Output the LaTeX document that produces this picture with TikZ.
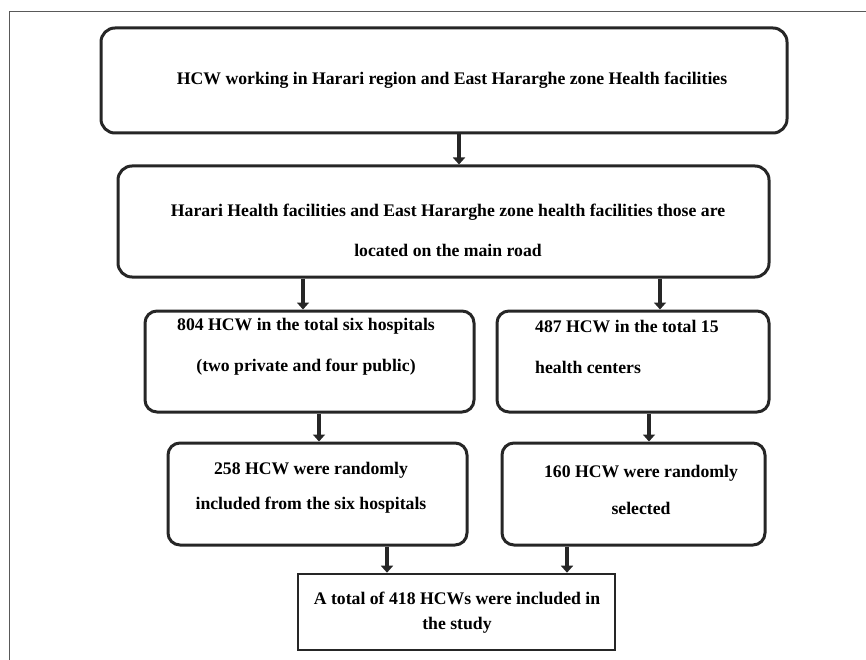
\documentclass[tikz,border=0pt]{standalone}
\usepackage{fontspec}
\setmainfont{Liberation Serif}
\usetikzlibrary{arrows.meta}
\tikzstyle{stage} = [rectangle, draw=black!85, line width=3pt, rounded corners=14pt, inner sep=0pt]
\tikzstyle{final} = [rectangle, draw=black!85, line width=2.6pt, inner sep=0pt]
\tikzstyle{txt} = [align=center, inner sep=0pt]
\tikzstyle{flow} = [-{Triangle[length=7pt,width=12pt]}, line width=4.5pt, draw=black!85]

\begin{document}
\begin{tikzpicture}[x=1pt,y=-1pt]
  \useasboundingbox (0,0) rectangle (866,660);
  \draw[black!65, line width=1.4pt] (9.5,660) -- (9.5,11.5) -- (866,11.5);

  \node[stage, minimum width=686pt, minimum height=105pt] (top) at (444,80.5) {};
  \node[stage, minimum width=651pt, minimum height=111pt] (mid) at (443.5,221.5) {};
  \node[stage, rounded corners=12pt, minimum width=329pt, minimum height=101pt] (hosp) at (309.5,361.5) {};
  \node[stage, rounded corners=12pt, minimum width=272pt, minimum height=101pt] (hc) at (633,361.5) {};
  \node[stage, rounded corners=12pt, minimum width=299pt, minimum height=102pt] (hsamp) at (317.5,494) {};
  \node[stage, rounded corners=12pt, minimum width=263pt, minimum height=102pt] (hcsamp) at (633.5,494) {};
  \node[final, minimum width=317pt, minimum height=76pt] (total) at (456.5,612) {};

  \node[txt, font=\fontsize{17.7}{21}\selectfont\bfseries] (t_top) at (452,80)
    {HCW working in Harari region and East Hararghe zone Health facilities};
  \node[txt, font=\fontsize{17.7}{40}\selectfont\bfseries] (t_mid) at (448,230)
    {Harari Health facilities and East Hararghe zone health facilities those are\\located on the main road};
  \node[txt, font=\fontsize{17.7}{41}\selectfont\bfseries] (t_hosp) at (306,346.5)
    {804 HCW in the total six hospitals\\(two private and four public)};
  \node[txt, align=left, anchor=west, font=\fontsize{17.7}{41}\selectfont\bfseries] (t_hc) at (535,346.5)
    {487 HCW in the total 15\\health centers};
  \node[txt, font=\fontsize{17.7}{35}\selectfont\bfseries] (t_hsamp) at (311,487.5)
    {258 HCW were randomly\\included from the six hospitals};
  \node[txt, font=\fontsize{17.7}{37}\selectfont\bfseries] (t_hcsamp) at (641,489.5)
    {160 HCW were randomly\\selected};
  \node[txt, font=\fontsize{17.7}{25}\selectfont\bfseries] (t_total) at (457,612.5)
    {A total of 418 HCWs were included in\\the study};

  \path ([xshift=15]top.south) edge[flow] ([xshift=15]top.south |- mid.north);
  \path ([xshift=-6.5]hosp.north |- mid.south) edge[flow] ([xshift=-6.5]hosp.north);
  \path ([xshift=27]hc.north |- mid.south) edge[flow] ([xshift=27]hc.north);
  \path ([xshift=1.5]hsamp.north |- hosp.south) edge[flow] ([xshift=1.5]hsamp.north);
  \path ([xshift=15.5]hcsamp.north |- hc.south) edge[flow] ([xshift=15.5]hcsamp.north);
  \path ([xshift=-69.5]total.north |- hsamp.south) edge[flow] ([xshift=-69.5]total.north);
  \path ([xshift=110.5]total.north |- hcsamp.south) edge[flow] ([xshift=110.5]total.north);
\end{tikzpicture}
\end{document}
